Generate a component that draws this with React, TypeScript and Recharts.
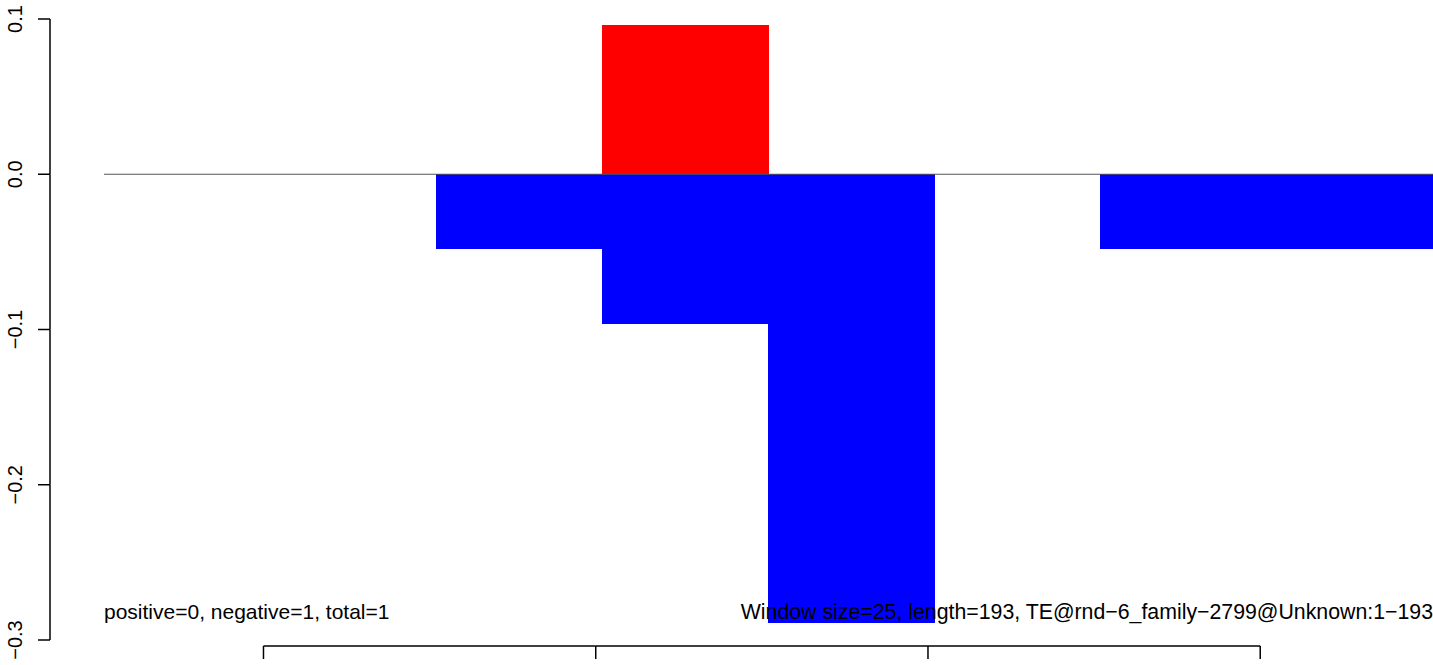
import React from 'react';
import { ComposedChart, Bar, Line, XAxis, YAxis, ReferenceLine } from 'recharts';

const windows = ['w1', 'w2', 'w3', 'w4', 'w5', 'w6', 'w7', 'w8'];
const windowIndex = [1, 2, 3, 4, 5, 6, 7, 8];
const positiveValues = [0, 0, 0, 0.096, 0, 0, 0, 0];
const negativeValues = [0, 0, -0.048, -0.096, -0.289, 0, -0.048, -0.048];
const yTicks = [0.1, 0, -0.1, -0.2, -0.3];
const yDomain: [number, number] = [-0.3, 0.1];
const yStep = 0.1;
const xTicks = [1, 3, 5, 7];
const xDomain: [number, number] = [0.04, 8.04];
const leftNote = 'positive=0, negative=1, total=1';
const rightNote = 'Window size=25, length=193, TE@rnd\u22126_family\u22122799@Unknown:1\u2212193';

const data = windows.map((w, i) => ({
  win: w,
  idx: windowIndex[i],
  pos: positiveValues[i],
  neg: negativeValues[i],
}));

const FONT = '"Liberation Sans", Arial, Helvetica, sans-serif';

const fmt = (v: number) => {
  if (Math.abs(v) < 1e-9) return '0.0';
  return v < 0 ? '\u2212' + Math.abs(v).toFixed(1) : v.toFixed(1);
};

const YTick = (props: any) => {
  const { x, y, height, payload } = props;
  const v = payload.value as number;
  const axisX = x - 54;
  const stepPx = (yStep * height) / (yDomain[1] - yDomain[0]);
  return (
    <g>
      <line x1={axisX - 12} x2={axisX} y1={y} y2={y} stroke="#000" strokeWidth={1.5} />
      {v > yDomain[0] + 1e-9 && (
        <line x1={axisX} x2={axisX} y1={y} y2={y + stepPx} stroke="#000" strokeWidth={1.5} />
      )}
      <text
        transform={`translate(${axisX - 28},${y}) rotate(-90)`}
        textAnchor="middle"
        fontSize={20}
        fontFamily={FONT}
        fill="#000"
      >
        {fmt(v)}
      </text>
    </g>
  );
};

const XTick = (props: any) => {
  const { x, y, width, payload } = props;
  const w = typeof width === 'number' && width > 0 ? width : 1329;
  const unit = w / (xDomain[1] - xDomain[0]);
  const i = xTicks.indexOf(payload.value);
  const next = i >= 0 && i < xTicks.length - 1 ? xTicks[i + 1] : null;
  const axisY = y + 6;
  return (
    <g>
      <line x1={x} x2={x} y1={axisY} y2={axisY + 13} stroke="#000" strokeWidth={1.5} />
      {next !== null && (
        <line x1={x} x2={x + (next - payload.value) * unit} y1={axisY} y2={axisY} stroke="#000" strokeWidth={1.5} />
      )}
    </g>
  );
};

export default function App() {
  return (
    <div style={{ position: 'absolute', left: 0, top: 0, width: 1433, height: 665, background: '#fff' }}>
      <ComposedChart
        width={1433}
        height={665}
        data={data}
        margin={{ top: 19, right: 0, bottom: 0, left: 0 }}
        stackOffset="sign"
        barCategoryGap={0}
        barGap={0}
      >
        <XAxis xAxisId="c" dataKey="win" hide height={0} />
        <XAxis
          xAxisId="n"
          dataKey="idx"
          type="number"
          domain={xDomain}
          ticks={xTicks}
          allowDataOverflow
          axisLine={false}
          tickLine={false}
          tickSize={0}
          tickMargin={0}
          height={25}
          tick={<XTick />}
          interval={0}
        />
        <YAxis
          domain={yDomain}
          ticks={yTicks}
          allowDataOverflow
          width={104}
          axisLine={false}
          tickLine={false}
          tickSize={0}
          tickMargin={0}
          tick={<YTick />}
          interval={0}
        />
        <ReferenceLine xAxisId="c" y={0} stroke="#555" strokeWidth={1} />
        <Bar
          xAxisId="c"
          dataKey="pos"
          stackId="s"
          fill="#ff0000"
          stroke="#ff0000"
          strokeWidth={1}
          shapeRendering="crispEdges"
          isAnimationActive={false}
        />
        <Bar
          xAxisId="c"
          dataKey="neg"
          stackId="s"
          fill="#0000ff"
          stroke="#0000ff"
          strokeWidth={1}
          shapeRendering="crispEdges"
          isAnimationActive={false}
        />
        <Line
          xAxisId="n"
          dataKey="pos"
          stroke="none"
          strokeWidth={0}
          dot={false}
          activeDot={false}
          legendType="none"
          isAnimationActive={false}
        />
      </ComposedChart>
      <svg
        width={1433}
        height={665}
        style={{ position: 'absolute', left: 0, top: 0, pointerEvents: 'none' }}
      >
        <text x={104} y={619} fontSize={21} fontFamily={FONT} fill="#000">
          {leftNote}
        </text>
        <text x={1433} y={619} fontSize={21.3} fontFamily={FONT} fill="#000" textAnchor="end">
          {rightNote}
        </text>
      </svg>
    </div>
  );
}
